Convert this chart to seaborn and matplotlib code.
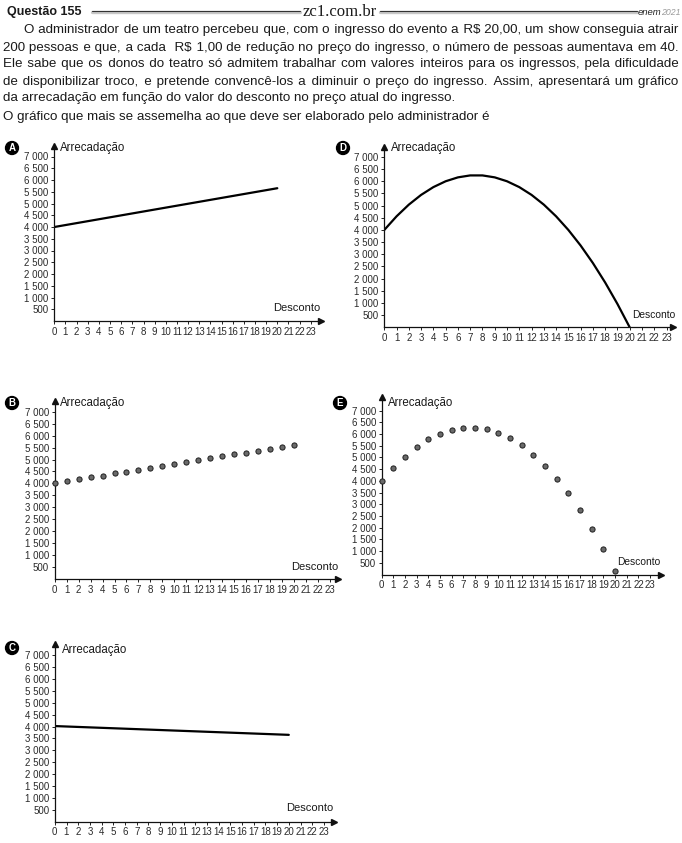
import matplotlib
matplotlib.use("Agg")
import matplotlib.pyplot as plt
import seaborn as sns

sns.set_style("white")
plt.rcParams['font.family'] = ['Liberation Sans', 'DejaVu Sans']

W, H = 682, 843
fig = plt.figure(figsize=(W / 100, H / 100), dpi=100)
renderer = fig.canvas.get_renderer()

# ---------------- data ----------------
desconto_ticks = list(range(24))
arrec_ticks = [500, 1000, 1500, 2000, 2500, 3000, 3500, 4000, 4500, 5000, 5500, 6000, 6500, 7000]
arrec_ticklabels = ["500", "1 000", "1 500", "2 000", "2 500", "3 000", "3 500",
                    "4 000", "4 500", "5 000", "5 500", "6 000", "6 500", "7 000"]

a_desconto = [0, 20]
a_arrec = [4000, 5650]

b_desconto = list(range(21))
b_arrec = [4000, 4110, 4180, 4250, 4330, 4420, 4490, 4580, 4650, 4720, 4830,
           4900, 4960, 5060, 5130, 5210, 5290, 5360, 5450, 5530, 5610]

c_desconto = [0, 20]
c_arrec = [4020, 3650]

d_desconto = list(range(21))
d_arrec = [4000, 4560, 5040, 5440, 5760, 6000, 6160, 6240, 6240, 6160, 6000,
           5760, 5440, 5040, 4560, 4000, 3360, 2640, 1840, 960, 0]

e_desconto = list(range(21))
e_arrec = [4000, 4570, 5040, 5450, 5780, 6020, 6180, 6280, 6280, 6220, 6050,
           5820, 5520, 5120, 4640, 4080, 3470, 2760, 1960, 1090, 160]

title = "Questão 155"
site = "zc1.com.br"
paragraph_lines = [
    "O administrador de um teatro percebeu que, com o ingresso do evento a R$ 20,00, um show conseguia atrair",
    "200 pessoas e que, a cada  R$ 1,00 de redução no preço do ingresso, o número de pessoas aumentava em 40.",
    "Ele sabe que os donos do teatro só admitem trabalhar com valores inteiros para os ingressos, pela dificuldade",
    "de disponibilizar troco, e pretende convencê-los a diminuir o preço do ingresso. Assim, apresentará um gráfico",
    "da arrecadação em função do valor do desconto no preço atual do ingresso.",
]
question_line = "O gráfico que mais se assemelha ao que deve ser elaborado pelo administrador é"

TXT = "#1a1a1a"

def fx(px):
    return px / W

def fy(py):
    return 1 - py / H

# ---------------- header ----------------
fig.text(fx(7), fy(15), title, fontsize=9, fontweight='bold', color=TXT, va='baseline')
site_t = fig.text(fx(340), fy(16), site, fontsize=12, family=['Liberation Serif', 'DejaVu Serif'],
                  color=TXT, ha='center', va='baseline')
bb_site = site_t.get_window_extent(renderer)
for (xa, xb) in [(92, bb_site.x0 - 3), (bb_site.x1 + 3, 637)]:
    fig.add_artist(plt.Line2D([fx(xa), fx(xb)], [fy(12.3), fy(12.3)], color='#c8c8c8', lw=2.4))
    fig.add_artist(plt.Line2D([fx(xa), fx(xb)], [fy(11.2), fy(11.2)], color='#333333', lw=0.8))
e1 = fig.text(fx(638), fy(15), "enem", fontsize=6.8, style='italic', color='#222222', va='baseline')
bb_e = e1.get_window_extent(renderer)
fig.text((bb_e.x1 - 1) / W, fy(15), "2021", fontsize=6.3, style='italic', color='#9a9a9a', va='baseline')

# ---------------- paragraph (justified, one text per line) ----------------
def text_width(s, size):
    tt = fig.text(0, 0, s, fontsize=size)
    w = tt.get_window_extent(renderer).width
    tt.remove()
    return w

RIGHT = 679
starts = [24, 3, 3, 3, 3]
base = 10.0
size = min(base * (RIGHT - starts[i]) / text_width(paragraph_lines[i], base) for i in range(4)) * 0.995

def sp_width(ch):
    return text_width("a" + ch + "a", size) - text_width("aa", size)

fillers = []
for ch in ["\u2002", "\u2004", "\u2005", "\u2006", "\u2009", "\u200A"]:
    wdt = sp_width(ch)
    if wdt > 0.4:
        fillers.append((wdt, ch))
fillers.sort(reverse=True)
smallest = fillers[-1][0] if fillers else 1.0

def build(tokens, per_gap):
    acc = 0.0
    out = tokens[0]
    for tok in tokens[1:]:
        acc += per_gap
        fill = ""
        for wdt, ch in fillers:
            while wdt <= acc + smallest / 2:
                fill += ch
                acc -= wdt
        out += " " + fill + tok
    return out

def justify(line, x0, x1):
    tokens = line.split(" ")
    n_gaps = len(tokens) - 1
    target = x1 - x0
    w_nat = text_width(line, size)
    if n_gaps <= 0 or target <= w_nat or not fillers:
        return line
    best = line
    best_err = target - w_nat
    need = target - w_nat
    f = 1.0
    for _ in range(6):
        s = build(tokens, need * f / n_gaps)
        w = text_width(s, size)
        err = target - w
        if 0 <= err < best_err:
            best, best_err = s, err
        gained = w - w_nat
        if gained <= 0:
            break
        f *= need / gained
    return best

baselines = [33.5, 50.5, 67.5, 84.5, 101.5]
for i, line in enumerate(paragraph_lines):
    x0 = starts[i]
    s = justify(line, x0, RIGHT) if i < len(paragraph_lines) - 1 else line
    fig.text(fx(x0), fy(baselines[i]), s, fontsize=size, color=TXT, va='baseline')
fig.text(fx(3), fy(120), question_line, fontsize=size, color=TXT, va='baseline')

# ---------------- panels ----------------
panels = [
    dict(letter="A", x0=54.3, y0=321.0, ux=11.15, uy=11.75, xr=321, yt=146,
         lx=12, ly=148, ax_lab=60, ay_lab=148, dx=320, dy=308, dsize=8.0,
         xs=a_desconto, ys=a_arrec, kind="line"),
    dict(letter="D", x0=384.3, y0=327.3, ux=12.27, uy=12.17, xr=673, yt=146.5,
         lx=343, ly=148, ax_lab=391, ay_lab=148, dx=675, dy=315, dsize=7.4,
         xs=d_desconto, ys=d_arrec, kind="line"),
    dict(letter="B", x0=54.7, y0=579.2, ux=11.96, uy=11.97, xr=338, yt=400.5,
         lx=12, ly=403, ax_lab=60, ay_lab=403, dx=338, dy=567, dsize=8.0,
         xs=b_desconto, ys=b_arrec, kind="dots"),
    dict(letter="E", x0=381.7, y0=574.5, ux=11.67, uy=11.7, xr=661, yt=397,
         lx=340, ly=403, ax_lab=388, ay_lab=403, dx=660, dy=562, dsize=7.4,
         xs=e_desconto, ys=e_arrec, kind="dots"),
    dict(letter="C", x0=54.8, y0=821.5, ux=11.7, uy=11.87, xr=334, yt=644,
         lx=12, ly=648, ax_lab=62, ay_lab=650, dx=333, dy=808, dsize=8.0,
         xs=c_desconto, ys=c_arrec, kind="line"),
]

for p in panels:
    ax = fig.add_axes([fx(p["x0"]), fy(p["y0"]), (p["xr"] - p["x0"]) / W, (p["y0"] - p["yt"]) / H])
    ax.set_facecolor('none')
    ax.set_xlim(0, (p["xr"] - p["x0"]) / p["ux"])
    ax.set_ylim(0, (p["y0"] - p["yt"]) / p["uy"] * 500)
    if p["kind"] == "line":
        sns.lineplot(x=p["xs"], y=p["ys"], ax=ax, color='black', linewidth=1.6, sort=False)
    else:
        sns.scatterplot(x=p["xs"], y=p["ys"], ax=ax, s=14, color='#6a6a6a',
                        edgecolor='#1e1e1e', linewidth=0.7, clip_on=False, zorder=3)
    for side in ['top', 'right']:
        ax.spines[side].set_visible(False)
    for side in ['left', 'bottom']:
        ax.spines[side].set_color('#111111')
        ax.spines[side].set_linewidth(0.9)
    ax.set_xticks(desconto_ticks)
    ax.set_xticklabels([str(v) for v in desconto_ticks], fontsize=7, color='#2a2a2a')
    ax.set_yticks(arrec_ticks)
    ax.set_yticklabels(arrec_ticklabels, fontsize=7, color='#2a2a2a')
    ax.tick_params(axis='both', which='both', bottom=True, left=True, direction='out',
                   length=2.5, width=0.7, color='#222222', pad=1.5)
    ax.set_xlabel("")
    ax.set_ylabel("")
    ax.grid(False)
    # arrow heads
    ax.plot([1], [0], marker='>', ms=5, color='#111111', transform=ax.transAxes, clip_on=False)
    ax.plot([0], [1], marker='^', ms=5, color='#111111', transform=ax.transAxes, clip_on=False)
    # labels
    fig.text(fx(p["ax_lab"]), fy(p["ay_lab"]), "Arrecadação", fontsize=8.3, color=TXT,
             ha='left', va='center')
    fig.text(fx(p["dx"]), fy(p["dy"]), "Desconto", fontsize=p["dsize"], color=TXT,
             ha='right', va='center')
    fig.text(fx(p["lx"]), fy(p["ly"]), p["letter"], fontsize=7, fontweight='bold', color='white',
             ha='center', va='center',
             bbox=dict(boxstyle='circle,pad=0.15', fc='black', ec='black'))

fig.savefig("out.png", dpi=100, facecolor='white')
